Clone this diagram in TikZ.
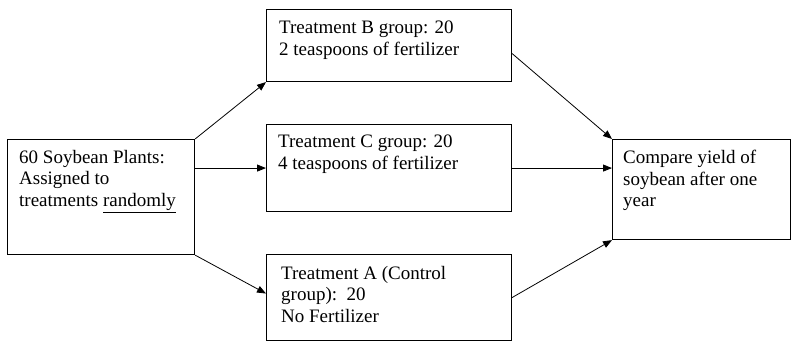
\documentclass[tikz,border=0pt]{standalone}
\usepackage{fontspec}
\setmainfont{Liberation Serif}
\usetikzlibrary{arrows.meta}
\begin{document}
\begin{tikzpicture}[x=1pt,y=-1pt,
  box/.style={draw, line width=1.1pt, anchor=north west, inner sep=0pt, minimum width=#1},
  txt/.style={anchor=north west, inner sep=0pt, align=left, font=\fontsize{19}{21.5}\selectfont},
  arr/.style={line width=0.8pt, -{Triangle[length=9pt,width=7pt]}}]
\useasboundingbox (0,0) rectangle (791,343);
\node[box=187pt, minimum height=115pt] (L) at (7,139) {};
\node[box=245pt, minimum height=72pt] (B) at (266,9) {};
\node[box=245pt, minimum height=87pt] (C) at (266,124) {};
\node[box=245pt, minimum height=86pt] (A) at (266,254) {};
\node[box=178pt, minimum height=100pt] (R) at (612,139) {};
\node[txt] (Lt) at (19,150) {60 Soybean Plants:\\Assigned to\\treatments \underline{randomly}};
\node[txt] (Bt) at (279,21) {Treatment B group: 20\\2 teaspoons of fertilizer};
\node[txt] (Ct) at (278,135) {Treatment C group: 20\\4 teaspoons of fertilizer};
\node[txt] (At) at (281,266) {Treatment A (Control\\group):\ \ 20\\No Fertilizer};
\node[txt] (Rt) at (623,150) {Compare yield of\\soybean after one\\year};
\draw[arr] (L.north east) -- (B.south west);
\draw[arr] (L.east |- C.west) -- (C.west);
\draw[arr] (L.south east) -- ([yshift=4pt]A.west);
\draw[arr] ([yshift=-8pt]B.east) -- (R.north west);
\draw[arr] (C.east) -- (R.west |- C.east);
\draw[arr] (A.east) -- (R.south west);
\end{tikzpicture}
\end{document}
